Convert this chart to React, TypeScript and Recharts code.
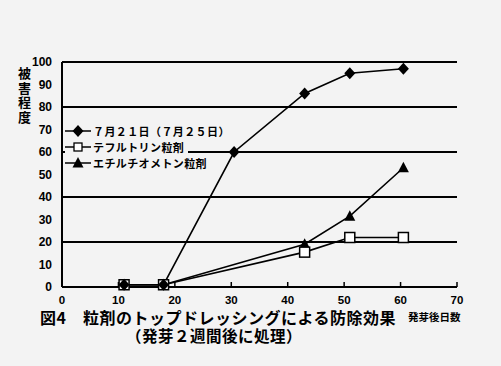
import React from "react"
import { CartesianGrid, Line, LineChart, XAxis, YAxis } from "recharts"

const days = [11, 18, 30.5, 43, 51, 60.5]
const seriesJul21 = [1, 1, 60, 86, 95, 97]
const seriesTefluthrin = [1, 1, null, 15.5, 22, 22]
const seriesEthylthiometon = [1, 1, null, 19, 31.5, 53]
const xTicks = [0, 10, 20, 30, 40, 50, 60, 70]
const yTicks = [0, 10, 20, 30, 40, 50, 60, 70, 80, 90, 100]

const names = {
  jul21: "７月２１日（７月２５日）",
  tef: "テフルトリン粒剤",
  eth: "エチルチオメトン粒剤",
}

const data = days.map((d, i) => ({
  day: d,
  jul21: seriesJul21[i],
  tef: seriesTefluthrin[i],
  eth: seriesEthylthiometon[i],
}))

const BG = "#f3f3f3"
const JP = "'Noto Sans CJK JP', 'Noto Sans', sans-serif"

function Diamond({ cx, cy }: any) {
  if (cx == null || cy == null) return null
  return <path d={`M${cx},${cy - 6}L${cx + 5.5},${cy}L${cx},${cy + 6}L${cx - 5.5},${cy}Z`} fill="#000" />
}

function Square({ cx, cy }: any) {
  if (cx == null || cy == null) return null
  return <rect x={cx - 5} y={cy - 5} width={10} height={10} fill="#fff" stroke="#000" strokeWidth={1.5} />
}

function Triangle({ cx, cy }: any) {
  if (cx == null || cy == null) return null
  return <path d={`M${cx},${cy - 6}L${cx + 5.5},${cy + 4.5}L${cx - 5.5},${cy + 4.5}Z`} fill="#000" />
}

function XTick({ x, y, payload }: any) {
  const axisY = y - 13
  return (
    <g>
      {payload.value > 0 && <line x1={x} y1={axisY} x2={x} y2={axisY - 5} stroke="#000" strokeWidth={1.5} />}
      <text x={x} y={y} dy="0.35em" textAnchor="middle" fontSize={11.5} fontWeight="bold" fontFamily="'Liberation Sans', Arial, sans-serif" fill="#000">
        {payload.value}
      </text>
    </g>
  )
}

function LegendIcon({ kind }: { kind: string }) {
  return (
    <svg width={26} height={12} style={{ display: "block" }}>
      <line x1={0} y1={6} x2={26} y2={6} stroke="#000" strokeWidth={1.5} />
      {kind === "jul21" && <Diamond cx={13} cy={6} />}
      {kind === "tef" && <rect x={9} y={2} width={8} height={8} fill="#fff" stroke="#000" strokeWidth={1.3} />}
      {kind === "eth" && <Triangle cx={13} cy={6} />}
    </svg>
  )
}

function LegendBox() {
  const rows: [string, string][] = [
    ["jul21", names.jul21],
    ["tef", names.tef],
    ["eth", names.eth],
  ]
  return (
    <div style={{ position: "absolute", left: 65, top: 123 }}>
      {rows.map(([k, label]) => (
        <div key={k} style={{ display: "flex", alignItems: "center", height: 16, background: BG, width: "fit-content", paddingRight: 4 }}>
          <LegendIcon kind={k} />
          <span style={{ marginLeft: 2, fontFamily: JP, fontWeight: "bold", fontSize: 11, letterSpacing: 0.4, color: "#000", whiteSpace: "nowrap" }}>
            {label}
          </span>
        </div>
      ))}
    </div>
  )
}

export default function App() {
  return (
    <div style={{ position: "absolute", left: 0, top: 0, width: 501, height: 366, background: BG }}>
      <LineChart width={501} height={366} data={data} margin={{ top: 62, right: 44, bottom: 49, left: 22 }}>
        <CartesianGrid vertical={false} stroke="#000" strokeWidth={1.8} />
        <XAxis
          dataKey="day"
          type="number"
          domain={[0, 70]}
          ticks={xTicks}
          height={30}
          tickLine={false}
          tickSize={0}
          tickMargin={13}
          axisLine={{ stroke: "#000", strokeWidth: 2 }}
          tick={<XTick />}
        />
        <YAxis
          domain={[0, 100]}
          ticks={yTicks}
          width={40}
          tickLine={false}
          tickSize={0}
          tickMargin={10}
          axisLine={{ stroke: "#000", strokeWidth: 2 }}
          tick={{ fill: "#000", fontSize: 12, fontWeight: "bold", fontFamily: "'Liberation Sans', Arial, sans-serif" }}
        />
        <Line dataKey="eth" stroke="#000" strokeWidth={1.6} connectNulls dot={<Triangle />} activeDot={false} isAnimationActive={false} />
        <Line dataKey="tef" stroke="#000" strokeWidth={1.6} connectNulls dot={<Square />} activeDot={false} isAnimationActive={false} />
        <Line dataKey="jul21" stroke="#000" strokeWidth={1.6} dot={<Diamond />} activeDot={false} isAnimationActive={false} />
      </LineChart>
      <LegendBox />
      <div style={{ position: "absolute", left: 15, top: 67, writingMode: "vertical-rl", fontFamily: JP, fontWeight: "bold", fontSize: 13, letterSpacing: 1.5, lineHeight: "18px", color: "#000" }}>
        被害程度
      </div>
      <div style={{ position: "absolute", left: 40, top: 309, fontFamily: JP, fontWeight: "bold", fontSize: 16, letterSpacing: 0.5, lineHeight: "17px", color: "#000", whiteSpace: "nowrap" }}>
        図4　粒剤のトップドレッシングによる防除効果
      </div>
      <div style={{ position: "absolute", left: 408, top: 311, fontFamily: JP, fontWeight: "bold", fontSize: 10.5, lineHeight: "12px", color: "#000", whiteSpace: "nowrap" }}>
        発芽後日数
      </div>
      <div style={{ position: "absolute", left: 126, top: 327, fontFamily: JP, fontWeight: "bold", fontSize: 15.5, letterSpacing: 0.5, lineHeight: "17px", color: "#000", whiteSpace: "nowrap" }}>
        （発芽２週間後に処理）
      </div>
    </div>
  )
}
